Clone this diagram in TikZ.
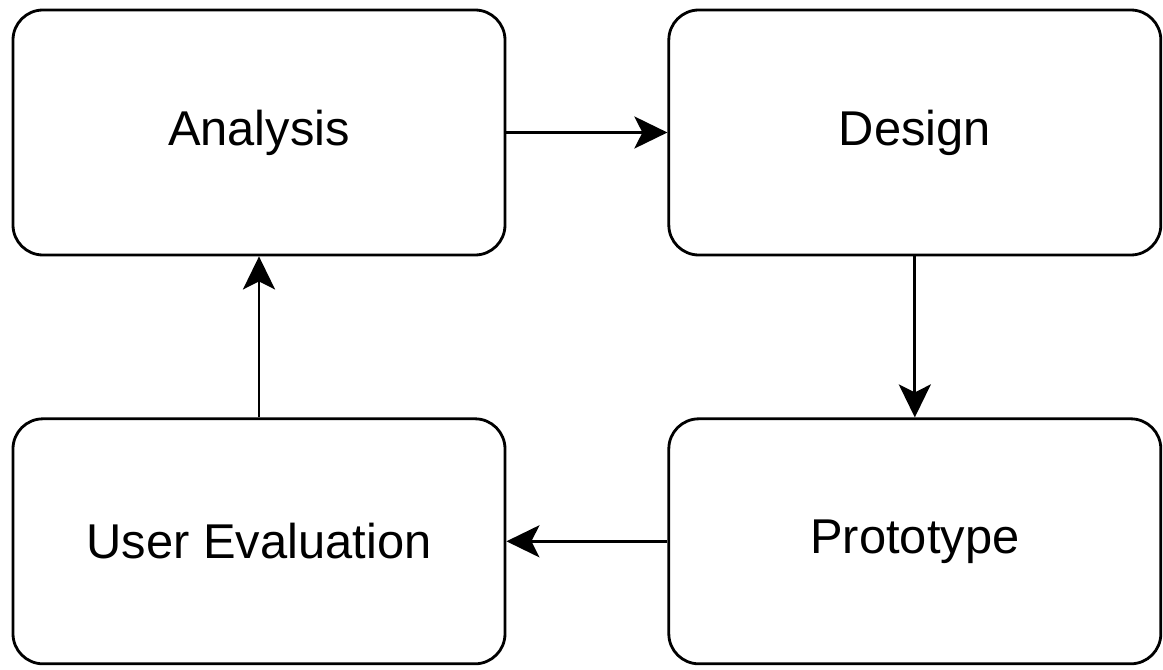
\documentclass[tikz,border=0pt]{standalone}
\usepackage{fontspec}
\setmainfont{Liberation Sans}
\usetikzlibrary{positioning,arrows.meta}

\begin{document}
\begin{tikzpicture}[node distance={16.1mm}, main/.style={draw, rounded corners=3mm, minimum width=49.2mm, minimum height=24.5mm, font=\fontsize{13.9}{16}\selectfont}, thick, >={Stealth[length=3.3mm, width=3.2mm, inset=0.8mm]}]
		\useasboundingbox (0,0) rectangle (11.63,6.69);
		\node[main] (1) at (2.59,5.365) {Analysis};
		\node[main] (2) [right=of 1] {Design};
		\node[main] (3) [below=of 2] {Prototype};
		\node[main] (4) [below=of 1] {User Evaluation};

		\draw[->] (1) to (2);
		\draw[->] (2) to (3);
		\draw[->] (3) to (4);
		\draw[->] (4) to (1);
	\end{tikzpicture}
\end{document}
